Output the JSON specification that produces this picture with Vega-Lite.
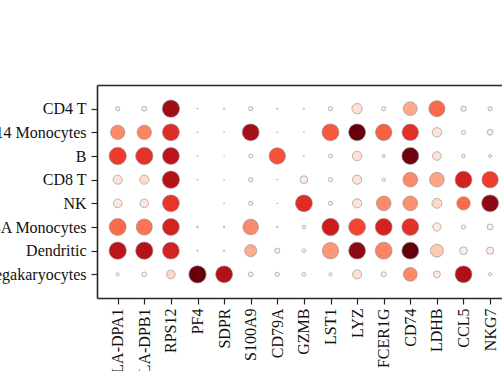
{
  "$schema": "https://vega.github.io/schema/vega-lite/v6.json",
  "autosize": {"type": "none"},
  "padding": {"left": 97, "top": 85, "right": 0, "bottom": 73},
  "width": 405,
  "height": 213,
  "background": "white",
  "config": {
    "view": {"stroke": null},
    "axis": {
      "domainColor": "#262626",
      "domainWidth": 1.6,
      "tickColor": "#262626",
      "tickWidth": 1.2,
      "tickSize": 6,
      "labelFont": "Liberation Serif",
      "labelFontSize": 16,
      "labelColor": "#111111",
      "labelPadding": 5,
      "grid": false,
      "title": null
    }
  },
  "data": {
    "values": [
      {"cell": "CD4 T", "gene": "HLA-DPA1", "frac": 0.06, "expr": 0.05},
      {"cell": "CD4 T", "gene": "HLA-DPB1", "frac": 0.08, "expr": 0.05},
      {"cell": "CD4 T", "gene": "RPS12", "frac": 1.0, "expr": 0.88},
      {"cell": "CD4 T", "gene": "PF4", "frac": 0.003, "expr": 0.0},
      {"cell": "CD4 T", "gene": "SDPR", "frac": 0.006, "expr": 0.0},
      {"cell": "CD4 T", "gene": "S100A9", "frac": 0.06, "expr": 0.03},
      {"cell": "CD4 T", "gene": "CD79A", "frac": 0.006, "expr": 0.0},
      {"cell": "CD4 T", "gene": "GZMB", "frac": 0.006, "expr": 0.0},
      {"cell": "CD4 T", "gene": "LST1", "frac": 0.06, "expr": 0.03},
      {"cell": "CD4 T", "gene": "LYZ", "frac": 0.36, "expr": 0.12},
      {"cell": "CD4 T", "gene": "FCER1G", "frac": 0.06, "expr": 0.03},
      {"cell": "CD4 T", "gene": "CD74", "frac": 0.64, "expr": 0.3},
      {"cell": "CD4 T", "gene": "LDHB", "frac": 0.86, "expr": 0.5},
      {"cell": "CD4 T", "gene": "CCL5", "frac": 0.09, "expr": 0.05},
      {"cell": "CD4 T", "gene": "NKG7", "frac": 0.06, "expr": 0.04},

      {"cell": "CD14 Monocytes", "gene": "HLA-DPA1", "frac": 0.68, "expr": 0.4},
      {"cell": "CD14 Monocytes", "gene": "HLA-DPB1", "frac": 0.68, "expr": 0.42},
      {"cell": "CD14 Monocytes", "gene": "RPS12", "frac": 0.95, "expr": 0.68},
      {"cell": "CD14 Monocytes", "gene": "PF4", "frac": 0.003, "expr": 0.0},
      {"cell": "CD14 Monocytes", "gene": "SDPR", "frac": 0.003, "expr": 0.0},
      {"cell": "CD14 Monocytes", "gene": "S100A9", "frac": 0.95, "expr": 0.87},
      {"cell": "CD14 Monocytes", "gene": "CD79A", "frac": 0.003, "expr": 0.0},
      {"cell": "CD14 Monocytes", "gene": "GZMB", "frac": 0.003, "expr": 0.0},
      {"cell": "CD14 Monocytes", "gene": "LST1", "frac": 0.95, "expr": 0.55},
      {"cell": "CD14 Monocytes", "gene": "LYZ", "frac": 0.95, "expr": 1.0},
      {"cell": "CD14 Monocytes", "gene": "FCER1G", "frac": 0.9, "expr": 0.53},
      {"cell": "CD14 Monocytes", "gene": "CD74", "frac": 0.9, "expr": 0.67},
      {"cell": "CD14 Monocytes", "gene": "LDHB", "frac": 0.3, "expr": 0.1},
      {"cell": "CD14 Monocytes", "gene": "CCL5", "frac": 0.06, "expr": 0.03},
      {"cell": "CD14 Monocytes", "gene": "NKG7", "frac": 0.11, "expr": 0.05},

      {"cell": "B", "gene": "HLA-DPA1", "frac": 1.0, "expr": 0.63},
      {"cell": "B", "gene": "HLA-DPB1", "frac": 1.0, "expr": 0.66},
      {"cell": "B", "gene": "RPS12", "frac": 0.95, "expr": 0.8},
      {"cell": "B", "gene": "PF4", "frac": 0.003, "expr": 0.0},
      {"cell": "B", "gene": "SDPR", "frac": 0.001, "expr": 0.0},
      {"cell": "B", "gene": "S100A9", "frac": 0.05, "expr": 0.02},
      {"cell": "B", "gene": "CD79A", "frac": 0.9, "expr": 0.57},
      {"cell": "B", "gene": "GZMB", "frac": 0.003, "expr": 0.0},
      {"cell": "B", "gene": "LST1", "frac": 0.05, "expr": 0.02},
      {"cell": "B", "gene": "LYZ", "frac": 0.3, "expr": 0.12},
      {"cell": "B", "gene": "FCER1G", "frac": 0.03, "expr": 0.02},
      {"cell": "B", "gene": "CD74", "frac": 0.95, "expr": 0.98},
      {"cell": "B", "gene": "LDHB", "frac": 0.25, "expr": 0.1},
      {"cell": "B", "gene": "CCL5", "frac": 0.04, "expr": 0.02},
      {"cell": "B", "gene": "NKG7", "frac": 0.03, "expr": 0.02},

      {"cell": "CD8 T", "gene": "HLA-DPA1", "frac": 0.28, "expr": 0.1},
      {"cell": "CD8 T", "gene": "HLA-DPB1", "frac": 0.28, "expr": 0.14},
      {"cell": "CD8 T", "gene": "RPS12", "frac": 1.0, "expr": 0.83},
      {"cell": "CD8 T", "gene": "PF4", "frac": 0.003, "expr": 0.0},
      {"cell": "CD8 T", "gene": "SDPR", "frac": 0.003, "expr": 0.0},
      {"cell": "CD8 T", "gene": "S100A9", "frac": 0.06, "expr": 0.03},
      {"cell": "CD8 T", "gene": "CD79A", "frac": 0.003, "expr": 0.0},
      {"cell": "CD8 T", "gene": "GZMB", "frac": 0.2, "expr": 0.06},
      {"cell": "CD8 T", "gene": "LST1", "frac": 0.06, "expr": 0.03},
      {"cell": "CD8 T", "gene": "LYZ", "frac": 0.28, "expr": 0.1},
      {"cell": "CD8 T", "gene": "FCER1G", "frac": 0.04, "expr": 0.02},
      {"cell": "CD8 T", "gene": "CD74", "frac": 0.72, "expr": 0.4},
      {"cell": "CD8 T", "gene": "LDHB", "frac": 0.72, "expr": 0.32},
      {"cell": "CD8 T", "gene": "CCL5", "frac": 0.95, "expr": 0.72},
      {"cell": "CD8 T", "gene": "NKG7", "frac": 0.9, "expr": 0.62},

      {"cell": "NK", "gene": "HLA-DPA1", "frac": 0.25, "expr": 0.07},
      {"cell": "NK", "gene": "HLA-DPB1", "frac": 0.25, "expr": 0.08},
      {"cell": "NK", "gene": "RPS12", "frac": 0.95, "expr": 0.65},
      {"cell": "NK", "gene": "PF4", "frac": 0.0, "expr": 0.0},
      {"cell": "NK", "gene": "SDPR", "frac": 0.003, "expr": 0.0},
      {"cell": "NK", "gene": "S100A9", "frac": 0.06, "expr": 0.03},
      {"cell": "NK", "gene": "CD79A", "frac": 0.003, "expr": 0.0},
      {"cell": "NK", "gene": "GZMB", "frac": 0.95, "expr": 0.68},
      {"cell": "NK", "gene": "LST1", "frac": 0.06, "expr": 0.03},
      {"cell": "NK", "gene": "LYZ", "frac": 0.28, "expr": 0.1},
      {"cell": "NK", "gene": "FCER1G", "frac": 0.72, "expr": 0.4},
      {"cell": "NK", "gene": "CD74", "frac": 0.72, "expr": 0.38},
      {"cell": "NK", "gene": "LDHB", "frac": 0.33, "expr": 0.15},
      {"cell": "NK", "gene": "CCL5", "frac": 0.6, "expr": 0.5},
      {"cell": "NK", "gene": "NKG7", "frac": 0.95, "expr": 0.92},

      {"cell": "FCGR3A Monocytes", "gene": "HLA-DPA1", "frac": 0.95, "expr": 0.5},
      {"cell": "FCGR3A Monocytes", "gene": "HLA-DPB1", "frac": 0.86, "expr": 0.47},
      {"cell": "FCGR3A Monocytes", "gene": "RPS12", "frac": 0.95, "expr": 0.72},
      {"cell": "FCGR3A Monocytes", "gene": "PF4", "frac": 0.01, "expr": 0.0},
      {"cell": "FCGR3A Monocytes", "gene": "SDPR", "frac": 0.01, "expr": 0.0},
      {"cell": "FCGR3A Monocytes", "gene": "S100A9", "frac": 0.81, "expr": 0.4},
      {"cell": "FCGR3A Monocytes", "gene": "CD79A", "frac": 0.01, "expr": 0.0},
      {"cell": "FCGR3A Monocytes", "gene": "GZMB", "frac": 0.04, "expr": 0.02},
      {"cell": "FCGR3A Monocytes", "gene": "LST1", "frac": 1.0, "expr": 0.74},
      {"cell": "FCGR3A Monocytes", "gene": "LYZ", "frac": 0.95, "expr": 0.6},
      {"cell": "FCGR3A Monocytes", "gene": "FCER1G", "frac": 0.95, "expr": 0.72},
      {"cell": "FCGR3A Monocytes", "gene": "CD74", "frac": 0.95, "expr": 0.66},
      {"cell": "FCGR3A Monocytes", "gene": "LDHB", "frac": 0.23, "expr": 0.07},
      {"cell": "FCGR3A Monocytes", "gene": "CCL5", "frac": 0.06, "expr": 0.03},
      {"cell": "FCGR3A Monocytes", "gene": "NKG7", "frac": 0.12, "expr": 0.05},

      {"cell": "Dendritic", "gene": "HLA-DPA1", "frac": 1.0, "expr": 0.8},
      {"cell": "Dendritic", "gene": "HLA-DPB1", "frac": 1.0, "expr": 0.82},
      {"cell": "Dendritic", "gene": "RPS12", "frac": 0.95, "expr": 0.72},
      {"cell": "Dendritic", "gene": "PF4", "frac": 0.006, "expr": 0.0},
      {"cell": "Dendritic", "gene": "SDPR", "frac": 0.006, "expr": 0.0},
      {"cell": "Dendritic", "gene": "S100A9", "frac": 0.49, "expr": 0.3},
      {"cell": "Dendritic", "gene": "CD79A", "frac": 0.09, "expr": 0.04},
      {"cell": "Dendritic", "gene": "GZMB", "frac": 0.05, "expr": 0.02},
      {"cell": "Dendritic", "gene": "LST1", "frac": 0.9, "expr": 0.36},
      {"cell": "Dendritic", "gene": "LYZ", "frac": 0.95, "expr": 0.92},
      {"cell": "Dendritic", "gene": "FCER1G", "frac": 0.95, "expr": 0.42},
      {"cell": "Dendritic", "gene": "CD74", "frac": 0.95, "expr": 1.0},
      {"cell": "Dendritic", "gene": "LDHB", "frac": 0.56, "expr": 0.2},
      {"cell": "Dendritic", "gene": "CCL5", "frac": 0.2, "expr": 0.06},
      {"cell": "Dendritic", "gene": "NKG7", "frac": 0.18, "expr": 0.06},

      {"cell": "Megakaryocytes", "gene": "HLA-DPA1", "frac": 0.03, "expr": 0.02},
      {"cell": "Megakaryocytes", "gene": "HLA-DPB1", "frac": 0.076, "expr": 0.04},
      {"cell": "Megakaryocytes", "gene": "RPS12", "frac": 0.25, "expr": 0.15},
      {"cell": "Megakaryocytes", "gene": "PF4", "frac": 1.0, "expr": 1.0},
      {"cell": "Megakaryocytes", "gene": "SDPR", "frac": 0.95, "expr": 0.83},
      {"cell": "Megakaryocytes", "gene": "S100A9", "frac": 0.076, "expr": 0.04},
      {"cell": "Megakaryocytes", "gene": "CD79A", "frac": 0.06, "expr": 0.03},
      {"cell": "Megakaryocytes", "gene": "GZMB", "frac": 0.05, "expr": 0.02},
      {"cell": "Megakaryocytes", "gene": "LST1", "frac": 0.03, "expr": 0.02},
      {"cell": "Megakaryocytes", "gene": "LYZ", "frac": 0.28, "expr": 0.13},
      {"cell": "Megakaryocytes", "gene": "FCER1G", "frac": 0.09, "expr": 0.05},
      {"cell": "Megakaryocytes", "gene": "CD74", "frac": 0.64, "expr": 0.4},
      {"cell": "Megakaryocytes", "gene": "LDHB", "frac": 0.16, "expr": 0.07},
      {"cell": "Megakaryocytes", "gene": "CCL5", "frac": 0.95, "expr": 0.84},
      {"cell": "Megakaryocytes", "gene": "NKG7", "frac": 0.04, "expr": 0.02}
    ]
  },
  "layer": [
    {
      "mark": {"type": "circle", "opacity": 1, "stroke": "#8c8c8c", "strokeWidth": 0.6},
      "encoding": {
        "x": {
          "field": "gene", "type": "nominal",
          "sort": ["HLA-DPA1", "HLA-DPB1", "RPS12", "PF4", "SDPR", "S100A9", "CD79A", "GZMB", "LST1", "LYZ", "FCER1G", "CD74", "LDHB", "CCL5", "NKG7"],
          "scale": {"type": "point", "padding": 0.613, "align": 0.635},
          "axis": {"orient": "bottom", "labelAngle": -90, "labelPadding": 4}
        },
        "y": {
          "field": "cell", "type": "nominal",
          "sort": ["CD4 T", "CD14 Monocytes", "B", "CD8 T", "NK", "FCGR3A Monocytes", "Dendritic", "Megakaryocytes"],
          "scale": {"type": "point", "padding": 1},
          "axis": {"orient": "left"}
        },
        "size": {"field": "frac", "type": "quantitative", "scale": {"domain": [0, 1], "range": [0, 300]}, "legend": null},
        "color": {
          "field": "expr", "type": "quantitative",
          "scale": {
            "domain": [0, 0.125, 0.25, 0.375, 0.5, 0.625, 0.75, 0.875, 1],
            "range": ["#fff5f0", "#fee0d2", "#fcbba1", "#fc9272", "#fb6a4a", "#ef3b2c", "#cb181d", "#a50f15", "#67000d"]
          },
          "legend": null
        }
      }
    },
    {
      "mark": {"type": "circle", "opacity": 0},
      "encoding": {
        "x": {
          "field": "gene", "type": "nominal",
          "sort": ["HLA-DPA1", "HLA-DPB1", "RPS12", "PF4", "SDPR", "S100A9", "CD79A", "GZMB", "LST1", "LYZ", "FCER1G", "CD74", "LDHB", "CCL5", "NKG7"],
          "scale": {"type": "point", "padding": 0.613, "align": 0.635},
          "axis": {"orient": "top", "labels": false, "ticks": false}
        },
        "y": {
          "field": "cell", "type": "nominal",
          "sort": ["CD4 T", "CD14 Monocytes", "B", "CD8 T", "NK", "FCGR3A Monocytes", "Dendritic", "Megakaryocytes"]
        }
      }
    }
  ],
  "resolve": {"axis": {"x": "independent"}}
}
